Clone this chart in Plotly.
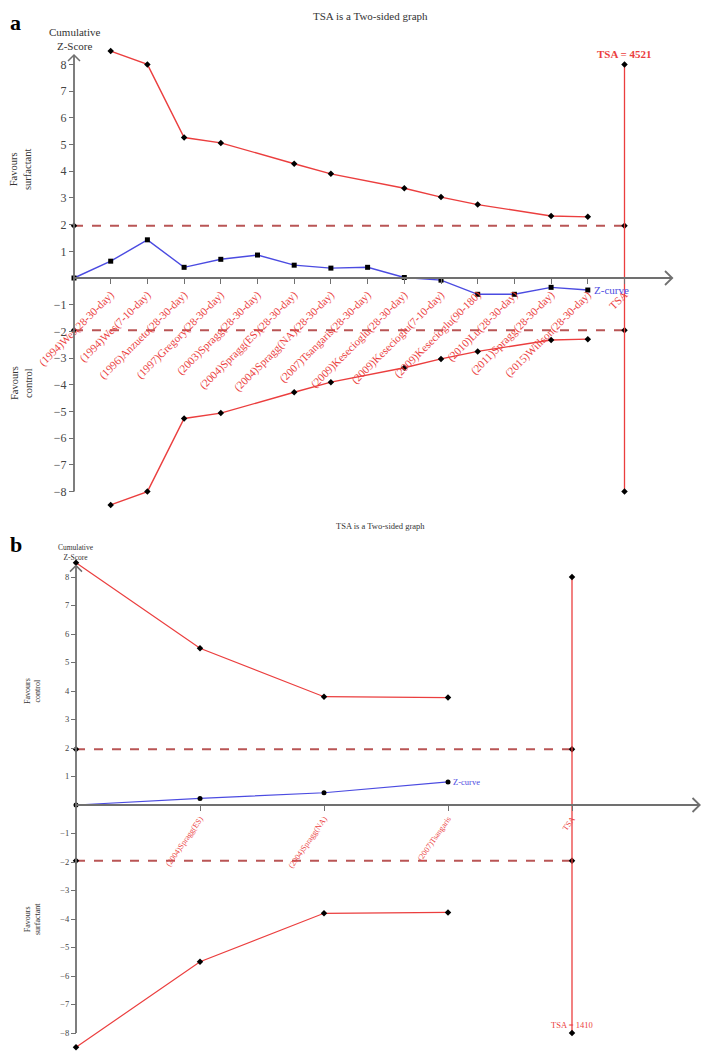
import plotly.graph_objects as go

# ---------------- data ----------------
a_labels = ["(1994)Wes(28-30-day)", "(1994)Wes(7-10-day)", "(1996)Anzueto(28-30-day)",
            "(1997)Gregory(28-30-day)", "(2003)Spragg(28-30-day)", "(2004)Spragg(ES)(28-30-day)",
            "(2004)Spragg(NA)(28-30-day)", "(2007)Tsangaris(28-30-day)", "(2009)Kesecioglu(28-30-day)",
            "(2009)Kesecioglu(7-10-day)", "(2009)Kesecioglu(90-180)", "(2010)Lu(28-30-day)",
            "(2011)Spragg(28-30-day)", "(2015)Willson(28-30-day)", "TSA"]
a_z_x = list(range(0, 15))
a_z = [0, 0.63, 1.43, 0.40, 0.70, 0.86, 0.48, 0.37, 0.40, 0.02, -0.08, -0.61, -0.61, -0.35, -0.45]
a_bound_x = [1, 2, 3, 4, 6, 7, 9, 10, 11, 13, 14]
a_upper = [8.5, 8.0, 5.26, 5.06, 4.28, 3.9, 3.36, 3.03, 2.75, 2.32, 2.29]
a_lower = [-v for v in a_upper]
a_tsa_pos = 15
a_tsa_text = "TSA = 4521"

b_labels = ["(2004)Spragg(ES)", "(2004)Spragg(NA)", "(2007)Tsangaris", "TSA"]
b_z_x = [0, 1, 2, 3]
b_z = [0, 0.23, 0.43, 0.81]
b_bound_x = [0, 1, 2, 3]
b_upper = [8.5, 5.5, 3.8, 3.77]
b_lower = [-v for v in b_upper]
b_tsa_pos = 4
b_tsa_text = "TSA = 1410"

z_crit = 1.96
tsa_limit = 8
ytick_vals = [-8, -7, -6, -5, -4, -3, -2, -1, 1, 2, 3, 4, 5, 6, 7, 8]

# ---------------- style ----------------
RED = "rgb(235,62,62)"
BLUE = "rgb(75,75,225)"
DASHC = "rgb(185,85,85)"
AX = "#707070"
FONT = "Liberation Serif"
OFF = 8                      # page body margin
W, H = 709 - OFF, 1052 - OFF

# pixel geometry (reference pixels)
A = dict(x0=74, dx=36.7, y0=278, dy=26.7, top=OFF, bot=515, xend=16.3, ytop=8.35)
B = dict(x0=76, dx=124.0, y0=805, dy=28.5, top=520, bot=1052, xend=5.03, ytop=8.4)

fig = go.Figure()


def panel(xa, ya, g, zx, z, bx, up, lo, tsa_pos, zmarker, msize, lw):
    for vals in (up, lo):
        fig.add_trace(go.Scatter(x=bx, y=vals, mode="lines+markers", xaxis=xa, yaxis=ya,
                                 line=dict(color=RED, width=lw),
                                 marker=dict(symbol="diamond", size=msize, color="black"),
                                 cliponaxis=False, showlegend=False, hoverinfo="skip"))
    for s in (1, -1):
        fig.add_trace(go.Scatter(x=[0, tsa_pos], y=[s * z_crit, s * z_crit], mode="lines+markers",
                                 xaxis=xa, yaxis=ya,
                                 line=dict(color=DASHC, width=2, dash="dash"),
                                 marker=dict(symbol="diamond", size=msize, color="black"),
                                 cliponaxis=False, showlegend=False, hoverinfo="skip"))
    fig.add_trace(go.Scatter(x=[tsa_pos, tsa_pos], y=[-tsa_limit, tsa_limit], mode="lines+markers",
                             xaxis=xa, yaxis=ya, line=dict(color=RED, width=1.3),
                             marker=dict(symbol="diamond", size=msize, color="black"),
                             cliponaxis=False, showlegend=False, hoverinfo="skip"))
    fig.add_trace(go.Scatter(x=zx, y=z, mode="lines+markers", xaxis=xa, yaxis=ya,
                             line=dict(color=BLUE, width=lw),
                             marker=dict(symbol=zmarker, size=msize, color="black"),
                             cliponaxis=False, showlegend=False, hoverinfo="skip"))
    sx = 6 / g["dx"]
    sy = 7 / g["dy"]
    fig.add_shape(type="line", xref=xa, yref=ya, x0=0, y0=0, x1=g["xend"], y1=0,
                  line=dict(color=AX, width=1.8))
    fig.add_shape(type="line", xref=xa, yref=ya, x0=0, y0=-tsa_limit, x1=0, y1=g["ytop"],
                  line=dict(color=AX, width=1.8))
    fig.add_shape(type="path", xref=xa, yref=ya,
                  path=f"M {g['xend']-sx*1.2},{sy} L {g['xend']},0 L {g['xend']-sx*1.2},{-sy}",
                  line=dict(color=AX, width=1.8))
    sy2 = 6 / g["dy"]
    fig.add_shape(type="path", xref=xa, yref=ya,
                  path=f"M {-sx},{g['ytop']-sy2} L 0,{g['ytop']} L {sx},{g['ytop']-sy2}",
                  line=dict(color=AX, width=1.5))


panel("x", "y", A, a_z_x, a_z, a_bound_x, a_upper, a_lower, a_tsa_pos, "square", 5, 1.4)
panel("x2", "y2", B, b_z_x, b_z, b_bound_x, b_upper, b_lower, b_tsa_pos, "circle", 5, 1.2)


def axes(g, labels, tickfs, ytfs, angle):
    x0 = g["x0"] - OFF
    y0 = g["y0"] - OFF
    top = g["top"] - OFF
    bot = g["bot"] - OFF
    xaxis = dict(domain=[0, 1], range=[-x0 / g["dx"], (W - x0) / g["dx"]],
                 anchor="free", position=1 - y0 / H, side="bottom",
                 tickvals=list(range(1, len(labels) + 1)), ticktext=labels, tickangle=angle,
                 tickfont=dict(family=FONT, size=tickfs, color=RED),
                 ticks="outside", ticklen=5, tickcolor=AX, tickwidth=1.3,
                 showline=False, showgrid=False, zeroline=False, fixedrange=True)
    yaxis = dict(domain=[max(0, 1 - bot / H), 1 - top / H],
                 range=[-(bot - y0) / g["dy"], (y0 - top) / g["dy"]],
                 anchor="free", position=x0 / W, side="left",
                 tickvals=ytick_vals, ticks="outside", ticklen=5, tickcolor=AX, tickwidth=1.3,
                 tickfont=dict(family=FONT, size=ytfs, color="#444"),
                 showline=False, showgrid=False, zeroline=False, fixedrange=True)
    return xaxis, yaxis


xa1, ya1 = axes(A, a_labels, 11, 12, -45)
xa2, ya2 = axes(B, b_labels, 8, 8.5, -55)

ann = []
def txt(x, y, text, size, color="#333", xref="paper", yref="paper",
        xanchor="center", yanchor="middle", **kw):
    d = dict(x=x, y=y, xref=xref, yref=yref, text=text, showarrow=False,
             xanchor=xanchor, yanchor=yanchor,
             font=dict(family=FONT, size=size, color=color))
    d.update(kw)
    ann.append(d)

def px(xp, yp):
    return (xp - OFF) / W, 1 - (yp - OFF) / H

# panel a texts
txt(*px(370, 8), "TSA is a Two-sided graph", 11, yanchor="top")
txt(*px(8, 8), "<b>a</b>", 22, "black", xanchor="left", yanchor="top")
txt(*px(74, 39), "Cumulative<br>Z-Score", 11, "#333")
txt(*px(21, 170), "Favours<br>surfactant", 10.5, "#333", textangle=-90)
txt(*px(21, 383), "Favours<br>control", 10.5, "#333", textangle=-90)
txt(a_z_x[-1], a_z[-1], "Z-curve", 11, BLUE, xref="x", yref="y", xanchor="left", xshift=4)
txt(a_tsa_pos, tsa_limit, "<b>" + a_tsa_text + "</b>", 11, RED, xref="x", yref="y",
    yanchor="bottom", yshift=2)

# panel b texts
txt(*px(380, 526), "TSA is a Two-sided graph", 8.5)
txt(*px(8, 530), "<b>b</b>", 22, "black", xanchor="left", yanchor="top")
txt(*px(76, 552), "Cumulative<br>Z-Score", 7.5, "#333")
txt(*px(32, 691), "Favours<br>control", 8, "#333", textangle=-90)
txt(*px(32, 919), "Favours<br>surfactant", 8, "#333", textangle=-90)
txt(b_z_x[-1], b_z[-1], "Z-curve", 8.5, BLUE, xref="x2", yref="y2", xanchor="left", xshift=3)
txt(b_tsa_pos, -tsa_limit, b_tsa_text, 8.5, RED, xref="x2", yref="y2", yanchor="bottom", yshift=1)

fig.update_layout(width=W, height=H, margin=dict(l=0, r=0, t=0, b=0),
                  paper_bgcolor="white", plot_bgcolor="white",
                  xaxis=xa1, yaxis=ya1, xaxis2=xa2, yaxis2=ya2,
                  annotations=ann, showlegend=False)

fig.write_html("out.html")
